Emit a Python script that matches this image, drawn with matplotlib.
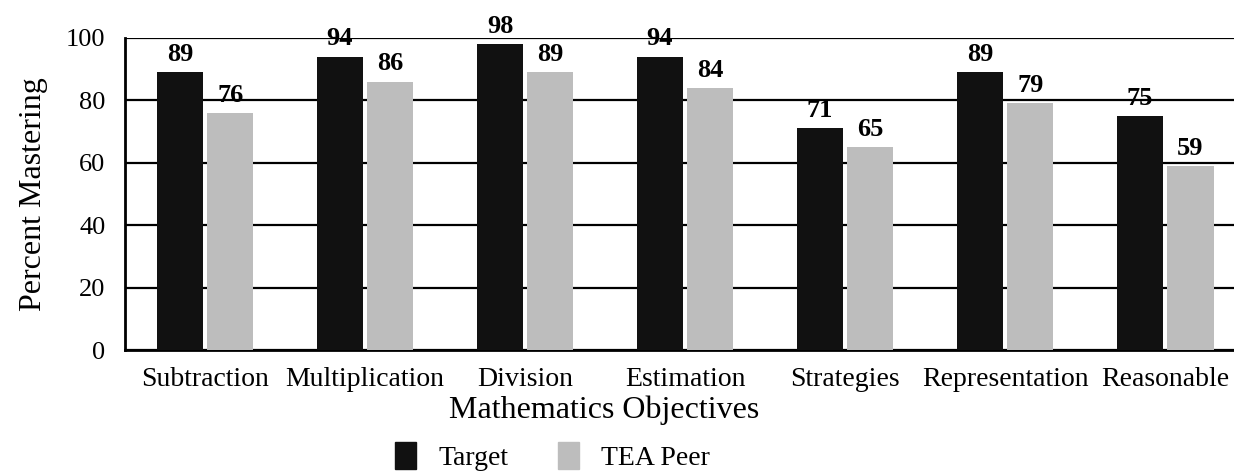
import numpy as np
import matplotlib
matplotlib.use('Agg')
import matplotlib.pyplot as plt
from matplotlib.patches import Patch

# Data
objectives = ['Subtraction', 'Multiplication', 'Division', 'Estimation',
              'Strategies', 'Representation', 'Reasonable']
target = [89, 94, 98, 94, 71, 89, 75]
tea_peer = [76, 86, 89, 84, 65, 79, 59]
yticks = [0, 20, 40, 60, 80, 100]

plt.rcParams['font.family'] = ['Liberation Serif', 'DejaVu Serif']

fig = plt.figure(figsize=(12.34, 4.73), dpi=100)
ax = fig.add_axes([0.1013, 0.26, 0.8987, 0.66])

x = np.arange(len(objectives))
w = 0.29
off = 0.157
b1 = ax.bar(x - off, target, width=w, color='#111111', zorder=3)
b2 = ax.bar(x + off, tea_peer, width=w, color='#bdbdbd', zorder=3)

# Value labels above each bar
for bars, vals in [(b1, target), (b2, tea_peer)]:
    for rect, v in zip(bars, vals):
        ax.text(rect.get_x() + rect.get_width() / 2, v + 2, str(v),
                ha='center', va='bottom', fontsize=19, fontweight='bold',
                zorder=4)

ax.set_xlim(-0.5, 6.43)
ax.set_ylim(0, 100)
ax.set_yticks(yticks)
ax.set_xticks(x)
ax.set_xticklabels(objectives, fontsize=20)
ax.tick_params(axis='y', labelsize=19, length=0, pad=14)
ax.tick_params(axis='x', length=0, pad=12)

ax.yaxis.grid(True, color='black', linewidth=1.6, zorder=0)
ax.set_axisbelow(True)
for s in ['top', 'right']:
    ax.spines[s].set_visible(False)
ax.spines['left'].set_linewidth(2)
ax.spines['bottom'].set_linewidth(2)

ax.set_ylabel('Percent Mastering', fontsize=23, labelpad=13)
ax.set_xlabel('Mathematics Objectives', fontsize=23, labelpad=3, x=0.432)

handles = [Patch(color='#111111', label='Target'),
           Patch(color='#bdbdbd', label='TEA Peer')]
fig.legend(handles=handles, loc='center', bbox_to_anchor=(0.448, 0.035),
           ncol=2, frameon=False, fontsize=20, handlelength=0.75,
           handleheight=1.1, handletextpad=0.8, columnspacing=1.8)

fig.savefig('out.png', dpi=100)
